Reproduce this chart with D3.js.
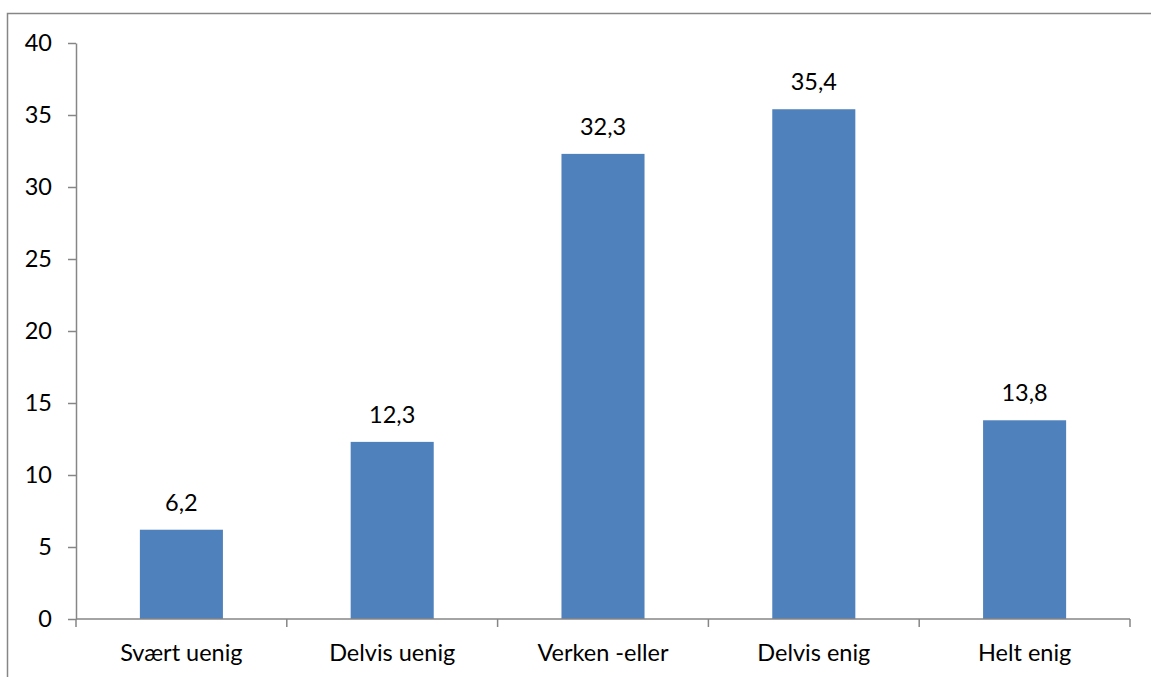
<!DOCTYPE html>
<html>
<head>
<meta charset="utf-8">
<script src="https://cdn.jsdelivr.net/npm/d3@7"></script>
<style>
  html, body { margin: 0; padding: 0; background: #fff; }
  svg { display: block; }
  text { font-family: Lato, "Open Sans", sans-serif; fill: #000; }
</style>
</head>
<body>
<svg id="chart" width="1151" height="677"></svg>
<script>
const categories = ["Svært uenig", "Delvis uenig", "Verken -eller", "Delvis enig", "Helt enig"];
const values = [6.2, 12.3, 32.3, 35.4, 13.8];
const yTicks = [0, 5, 10, 15, 20, 25, 30, 35, 40];

const svg = d3.select("#chart");
const plotLeft = 76, plotRight = 1130, plotTop = 43, plotBottom = 619;
const fontSize = "23.5px";

// Outer frame of the chart area
svg.append("rect")
  .attr("x", 7.5).attr("y", 13.5)
  .attr("width", 1160).attr("height", 700)
  .attr("fill", "none").attr("stroke", "#868686").attr("stroke-width", 1.5);

const x = d3.scaleBand()
  .domain(categories)
  .range([plotLeft, plotRight])
  .paddingInner(0.606)
  .paddingOuter(0.303);

const y = d3.scaleLinear().domain([0, 40]).range([plotBottom, plotTop]);

// Y axis
const yAxis = svg.append("g")
  .attr("transform", `translate(${plotLeft},0)`)
  .call(d3.axisLeft(y).tickValues(yTicks).tickSize(8).tickPadding(16).tickSizeOuter(0));
yAxis.select(".domain").attr("stroke", "#868686").attr("stroke-width", 1.5);
yAxis.selectAll(".tick line").attr("stroke", "#868686").attr("stroke-width", 1.5);
yAxis.selectAll(".tick text").style("font-size", fontSize).attr("fill", "#000");

// Bars
svg.append("g").selectAll("rect")
  .data(values)
  .join("rect")
  .attr("x", (d, i) => x(categories[i]))
  .attr("y", d => y(d))
  .attr("width", x.bandwidth())
  .attr("height", d => y(0) - y(d))
  .attr("fill", "#4F81BD");

// X axis line with ticks at category boundaries
const step = x.step();
const boundaries = d3.range(categories.length + 1).map(i => plotLeft + i * step);
svg.append("line")
  .attr("x1", plotLeft).attr("x2", plotRight)
  .attr("y1", plotBottom).attr("y2", plotBottom)
  .attr("stroke", "#868686").attr("stroke-width", 1.5);
svg.append("g").selectAll("line")
  .data(boundaries)
  .join("line")
  .attr("x1", d => d).attr("x2", d => d)
  .attr("y1", plotBottom).attr("y2", plotBottom + 8)
  .attr("stroke", "#868686").attr("stroke-width", 1.5);

// Category labels
svg.append("g").selectAll("text")
  .data(categories)
  .join("text")
  .attr("x", d => x(d) + x.bandwidth() / 2)
  .attr("y", plotBottom + 42)
  .attr("text-anchor", "middle")
  .style("font-size", fontSize)
  .text(d => d);

// Value labels
svg.append("g").selectAll("text")
  .data(values)
  .join("text")
  .attr("x", (d, i) => x(categories[i]) + x.bandwidth() / 2)
  .attr("y", d => y(d) - 19)
  .attr("text-anchor", "middle")
  .style("font-size", fontSize)
  .text(d => d.toFixed(1).replace(".", ","));
</script>
</body>
</html>
